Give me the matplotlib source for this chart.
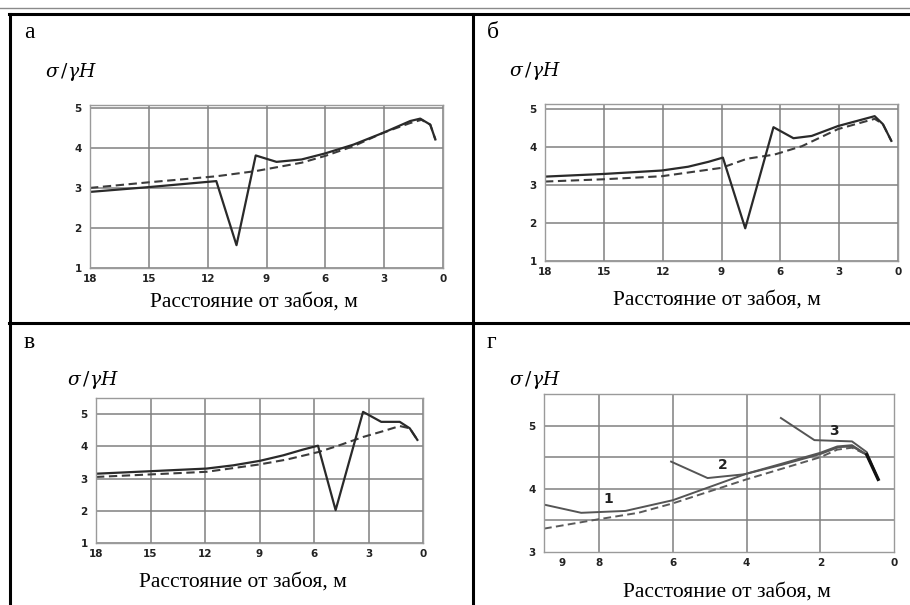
import matplotlib
matplotlib.use("Agg")
import matplotlib.pyplot as plt
from matplotlib.lines import Line2D

# ---------------- data ----------------
# Panel а
a_x_solid = [18, 15, 11.56, 10.53, 9.55, 8.49, 7.21, 6.02, 4.57, 3.03, 1.67, 1.16, 0.65, 0.39]
a_y_solid = [2.90, 3.02, 3.17, 1.57, 3.81, 3.65, 3.71, 3.86, 4.08, 4.38, 4.67, 4.73, 4.58, 4.21]
a_x_dash = [18, 15, 11.56, 9.55, 7.2, 6.0, 4.57, 3.03, 1.67, 1.1, 0.65, 0.39]
a_y_dash = [3.00, 3.14, 3.29, 3.42, 3.63, 3.80, 4.04, 4.38, 4.62, 4.70, 4.58, 4.21]

# Panel б
b_x_solid = [18, 15, 12.05, 10.7, 9.66, 8.93, 7.79, 6.35, 5.33, 4.4, 3.06, 1.19, 0.77, 0.34]
b_y_solid = [3.22, 3.29, 3.38, 3.48, 3.61, 3.72, 1.86, 4.52, 4.23, 4.29, 4.55, 4.81, 4.60, 4.16]
b_x_dash = [18, 15, 12.05, 9.0, 7.7, 6.3, 4.9, 3.06, 1.19, 0.77, 0.34]
b_y_dash = [3.09, 3.15, 3.23, 3.45, 3.69, 3.80, 4.02, 4.47, 4.74, 4.60, 4.16]

# Panel в
c_x_solid = [18, 14.94, 11.91, 10.45, 8.98, 7.7, 6.6, 5.78, 4.81, 3.3, 2.3, 1.28, 0.73, 0.31]
c_y_solid = [3.15, 3.23, 3.31, 3.41, 3.55, 3.72, 3.90, 4.02, 2.02, 5.07, 4.76, 4.76, 4.56, 4.20]
c_x_dash = [18, 14.94, 11.91, 8.98, 7.5, 5.78, 4.77, 3.3, 2.2, 1.28, 0.73, 0.31]
c_y_dash = [3.05, 3.13, 3.21, 3.44, 3.59, 3.82, 4.00, 4.29, 4.47, 4.63, 4.56, 4.20]

# Panel г
d1_x = [9.5, 8.49, 7.29, 6.0, 4.0, 2.0, 1.54, 1.14, 0.74, 0.43]
d1_y = [3.75, 3.62, 3.65, 3.82, 4.24, 4.57, 4.67, 4.69, 4.54, 4.15]
d2_x = [6.05, 5.06, 4.06, 3.04, 2.0, 1.5, 1.14, 0.74, 0.43]
d2_y = [4.43, 4.17, 4.23, 4.38, 4.55, 4.66, 4.67, 4.54, 4.15]
d3_x = [3.07, 2.16, 1.14, 0.74, 0.43]
d3_y = [5.12, 4.77, 4.75, 4.58, 4.15]
d_x_dash = [9.5, 8.0, 6.94, 6.0, 4.0, 2.0, 1.54, 1.14, 0.74, 0.43]
d_y_dash = [3.37, 3.52, 3.62, 3.77, 4.15, 4.50, 4.62, 4.65, 4.54, 4.15]
d_tail_x = [0.74, 0.43]
d_tail_y = [4.54, 4.15]
d_labels = ["1", "2", "3"]
d_label_x = [7.75, 4.65, 1.62]
d_label_y = [3.84, 4.38, 4.91]

x_ticks_18 = [18, 15, 12, 9, 6, 3, 0]
x_ticks_9 = [9, 8, 6, 4, 2, 0]
x_grid_9 = [8, 6, 4, 2]
y_ticks_15 = [1, 2, 3, 4, 5]
y_ticks_35 = [3, 4, 5]
y_grid_35 = [3.5, 4, 4.5, 5]

panel_letters = ["а", "б", "в", "г"]
ylabel_text = r"$\sigma\,/\gamma H$"
xlabel_text = "Расстояние от забоя, м"

# ---------------- figure ----------------
W, H = 910, 605
fig = plt.figure(figsize=(W / 100, H / 100), dpi=100)
fig.patch.set_facecolor("white")

serif = ["Liberation Serif", "DejaVu Serif"]
grid_c = "#808080"
line_c = "#2a2a2a"
dash_c = "#3c3c3c"


def px_rect(l, t, r, b):
    return [l / W, 1 - b / H, (r - l) / W, (b - t) / H]


def style_axes(ax):
    for s in ax.spines.values():
        s.set_color("#9a9a9a")
        s.set_linewidth(1.0)
    ax.tick_params(length=0, labelsize=7.5, colors="#222222")
    ax.tick_params(axis="x", pad=4)
    ax.tick_params(axis="y", pad=6)
    for lab in ax.get_xticklabels() + ax.get_yticklabels():
        lab.set_fontweight("bold")
        lab.set_family("DejaVu Sans")


def panel18(rect, ytop, xs, ys, xd, yd):
    ax = fig.add_axes(px_rect(*rect))
    ax.set_xlim(18, 0)
    ax.set_ylim(1, ytop)
    ax.set_xticks(x_ticks_18)
    ax.set_yticks(y_ticks_15)
    ax.grid(True, color=grid_c, linewidth=1.1)
    ax.set_axisbelow(True)
    ax.plot(xd, yd, color=dash_c, linewidth=1.5, dashes=(4, 2.2))
    ax.plot(xs, ys, color=line_c, linewidth=1.6)
    style_axes(ax)
    return ax


ax_a = panel18((90, 105, 443, 268), 5.07, a_x_solid, a_y_solid, a_x_dash, a_y_dash)
ax_b = panel18((545, 104, 898, 261), 5.13, b_x_solid, b_y_solid, b_x_dash, b_y_dash)
ax_c = panel18((96, 398, 423, 543), 5.5, c_x_solid, c_y_solid, c_x_dash, c_y_dash)

ax_d = fig.add_axes(px_rect(544, 394, 894, 552))
ax_d.set_xlim(9.5, 0)
ax_d.set_ylim(3, 5.5)
ax_d.set_xticks(x_ticks_9)
ax_d.set_yticks(y_ticks_35)
for gx in x_grid_9:
    ax_d.axvline(gx, color=grid_c, linewidth=1.1, zorder=0.5)
for gy in y_grid_35:
    ax_d.axhline(gy, color=grid_c, linewidth=1.1, zorder=0.5)
ax_d.plot(d_x_dash, d_y_dash, color="#5a5a5a", linewidth=1.4, dashes=(4, 2.2))
ax_d.plot(d1_x, d1_y, color="#555555", linewidth=1.4)
ax_d.plot(d2_x, d2_y, color="#555555", linewidth=1.4)
ax_d.plot(d3_x, d3_y, color="#555555", linewidth=1.4)
ax_d.plot(d_tail_x, d_tail_y, color="#111111", linewidth=2.4)
for t, lx, ly in zip(d_labels, d_label_x, d_label_y):
    ax_d.text(lx, ly, t, fontsize=10, fontweight="bold", family="DejaVu Sans",
              ha="center", va="center", color="#222222")
style_axes(ax_d)

# ---------------- table frame & texts ----------------
frame = dict(color="black", linewidth=2.2, transform=fig.transFigure, figure=fig)
fig.lines.append(Line2D([0, 1], [1 - 8 / H, 1 - 8 / H], color="#8a8a8a",
                        linewidth=1.0, transform=fig.transFigure, figure=fig))
fig.lines.append(Line2D([9 / W, 1], [1 - 14 / H, 1 - 14 / H], **frame))
fig.lines.append(Line2D([9.5 / W, 9.5 / W], [0, 1 - 14 / H], **frame))
fig.lines.append(Line2D([473 / W, 473 / W], [0, 1 - 14 / H], **frame))
fig.lines.append(Line2D([9 / W, 1], [1 - 323 / H, 1 - 323 / H], **frame))

letter_pos = [(24, 32), (487, 32), (24, 343), (487, 343)]
for letter, (lx, ly) in zip(panel_letters, letter_pos):
    fig.text(lx / W, 1 - ly / H, letter, fontsize=17, family=serif,
             ha="left", va="center")

ylab_pos = [(45, 72), (509, 71), (67, 380), (509, 380)]
for (lx, ly) in ylab_pos:
    fig.text(lx / W, 1 - ly / H, ylabel_text, fontsize=13.5, ha="left", va="center",
             math_fontfamily="dejavuserif")

xlab_pos = [(254, 302), (717, 300), (243, 582), (727, 592)]
for (lx, ly) in xlab_pos:
    fig.text(lx / W, 1 - ly / H, xlabel_text, fontsize=15.5, family=serif,
             ha="center", va="center")

fig.savefig("out.png", dpi=100, facecolor="white")
